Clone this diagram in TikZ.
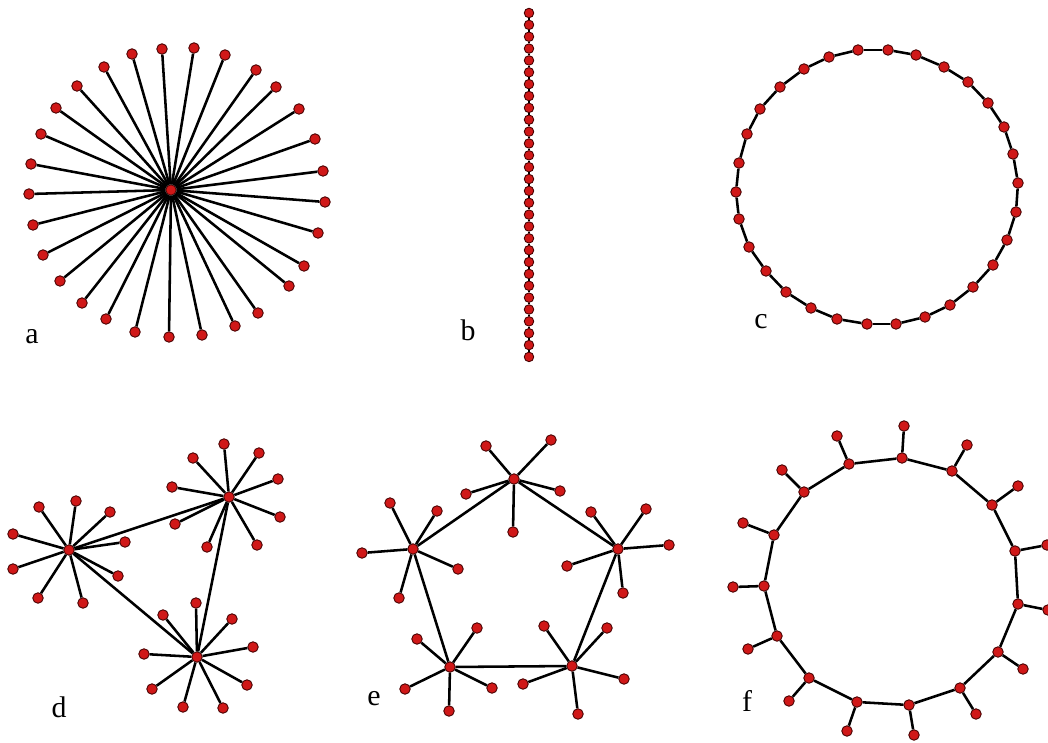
\documentclass[tikz,border=0pt]{standalone}
\usepackage{fontspec}
\setmainfont{Liberation Serif}
\usetikzlibrary{positioning}
\definecolor{vtxred}{RGB}{208,24,24}
\definecolor{vtxrim}{RGB}{70,0,0}

\begin{document}
\begin{tikzpicture}[
  x=0.02cm, y=-0.02cm,
  vtx/.style  = {circle, fill=vtxred, draw=vtxrim, line width=0.5pt,
                 minimum size=0.21cm, inner sep=0pt},
  svtx/.style = {vtx, minimum size=0.19cm},
  edge/.style = {draw=black, line width=1.45pt},
  lab/.style  = {font=\fontsize{17}{19}\selectfont, inner sep=0pt},
]
\useasboundingbox[fill=white] (0,0) rectangle (1048,743);

% ── a: star ───────────────────────────────────────────────────────────────────
\node[vtx] (a0) at (171,190) {};
\foreach \x/\y [count=\i] in {162/49, 194/48, 225/55, 256/70, 276/87, 299/109,
    315/139, 323/171, 325/202, 318/233, 304/266, 289/286, 258/313, 235/326,
    202/335, 169/337, 135/332, 106/319, 82/303, 60/281, 43/255, 33/225,
    29/194, 31/164, 41/134, 56/108, 77/86, 104/67, 132/54}
  \node[vtx] (a\i) at (\x,\y) {};
\foreach \i in {1,...,29}
  \draw[edge] (a0) -- (a\i);
\node[lab] (la) at (32,337) {a};

% ── b: chain ──────────────────────────────────────────────────────────────────
\foreach \i in {1,...,30}
  \node[svtx] (b\i) at (529,{13+(\i-1)*11.86}) {};
\foreach \i [evaluate=\i as \j using int(\i+1)] in {1,...,29}
  \draw[edge] (b\i) -- (b\j);
\node[lab] (lb) at (468,330) {b};

% ── c: ring ───────────────────────────────────────────────────────────────────
\foreach \x/\y [count=\i] in {858/50, 888/50, 916/55, 944/67, 968/82, 988/103,
    1004/127, 1013/154, 1018/183, 1016/212, 1007/240, 993/265, 973/287,
    950/305, 925/317, 896/324, 867/324, 837/319, 811/308, 786/292, 766/271,
    749/247, 739/219, 736/192, 739/163, 747/134, 760/109, 780/87, 804/69, 829/57}
  \node[vtx] (c\i) at (\x,\y) {};
\foreach \i [evaluate=\i as \j using {int(mod(\i,30)+1)}] in {1,...,30}
  \draw[edge] (c\i) -- (c\j);
\node[lab] (lc) at (761,322) {c};

% ── d: three linked stars ─────────────────────────────────────────────────────
\node[vtx] (dA) at (69,550) {};
\node[vtx] (dB) at (229,497) {};
\node[vtx] (dC) at (197,657) {};
\foreach \x/\y [count=\i] in {39/507, 76/501, 110/512, 125/542, 118/576,
    83/603, 38/598, 13/569, 13/534}
  {\node[vtx] (dA\i) at (\x,\y) {}; \draw[edge] (dA) -- (dA\i);}
\foreach \x/\y [count=\i] in {224/444, 259/453, 278/479, 280/517, 257/545,
    207/547, 175/524, 172/487, 193/458}
  {\node[vtx] (dB\i) at (\x,\y) {}; \draw[edge] (dB) -- (dB\i);}
\foreach \x/\y [count=\i] in {196/603, 232/619, 253/647, 247/685, 223/708,
    183/707, 152/689, 144/654, 163/615}
  {\node[vtx] (dC\i) at (\x,\y) {}; \draw[edge] (dC) -- (dC\i);}
\draw[edge] (dA) -- (dB);
\draw[edge] (dA) -- (dC);
\draw[edge] (dB) -- (dC);
\node[lab] (ld) at (59,707) {d};

% ── e: pentagon of stars ──────────────────────────────────────────────────────
\node[vtx] (eT)  at (514,479) {};
\node[vtx] (eR)  at (618,549) {};
\node[vtx] (eBR) at (572,666) {};
\node[vtx] (eBL) at (450,667) {};
\node[vtx] (eL)  at (413,549) {};
\foreach \x/\y [count=\i] in {486/446, 551/440, 560/491, 513/532, 466/494}
  {\node[vtx] (eT\i) at (\x,\y) {}; \draw[edge] (eT) -- (eT\i);}
\foreach \x/\y [count=\i] in {591/512, 646/509, 669/545, 623/593, 567/566}
  {\node[vtx] (eR\i) at (\x,\y) {}; \draw[edge] (eR) -- (eR\i);}
\foreach \x/\y [count=\i] in {544/626, 607/628, 624/679, 578/714, 523/684}
  {\node[vtx] (eBR\i) at (\x,\y) {}; \draw[edge] (eBR) -- (eBR\i);}
\foreach \x/\y [count=\i] in {417/639, 477/628, 492/688, 449/711, 405/689}
  {\node[vtx] (eBL\i) at (\x,\y) {}; \draw[edge] (eBL) -- (eBL\i);}
\foreach \x/\y [count=\i] in {390/503, 437/511, 362/553, 458/569, 399/598}
  {\node[vtx] (eL\i) at (\x,\y) {}; \draw[edge] (eL) -- (eL\i);}
\draw[edge] (eT) -- (eR) -- (eBR) -- (eBL) -- (eL) -- (eT);
\node[lab] (le) at (374,699) {e};

% ── f: ring with pendants ─────────────────────────────────────────────────────
\foreach \x/\y/\u/\v [count=\i] in {902/458/904/426, 952/471/967/445,
    992/505/1018/486, 1015/551/1047/545, 1018/604/1048/610, 998/652/1023/669,
    960/688/976/714, 909/705/914/735, 857/702/847/731, 809/678/789/701,
    777/636/748/649, 764/586/733/587, 774/535/743/523, 804/492/782/470,
    849/464/837/436}
  {\node[vtx] (f\i) at (\x,\y) {};
   \node[vtx] (fp\i) at (\u,\v) {};
   \draw[edge] (f\i) -- (fp\i);}
\foreach \i [evaluate=\i as \j using {int(mod(\i,15)+1)}] in {1,...,15}
  \draw[edge] (f\i) -- (f\j);
\node[lab] (lf) at (747,701) {f};

\end{tikzpicture}
\end{document}
